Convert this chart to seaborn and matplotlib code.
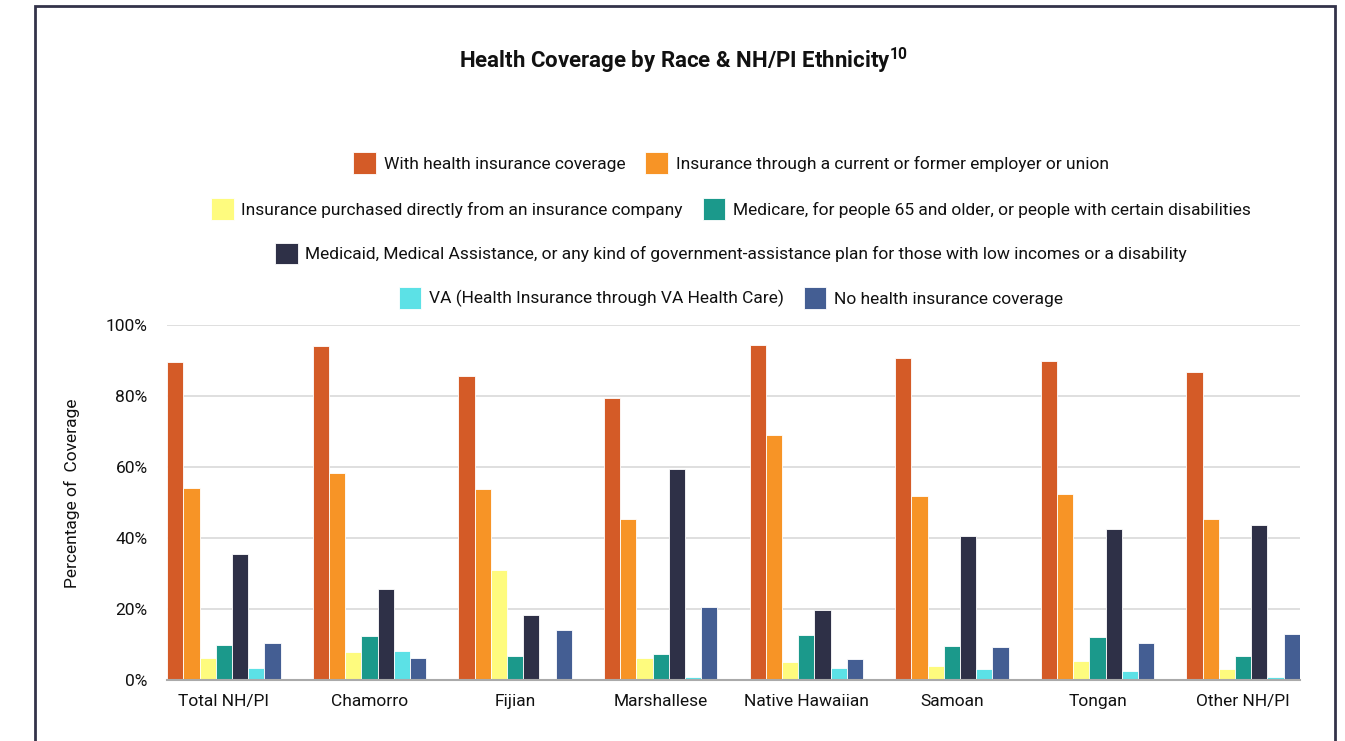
import numpy as np
import pandas as pd
import matplotlib
matplotlib.use("Agg")
import matplotlib.pyplot as plt
from matplotlib.patches import Rectangle
import seaborn as sns

groups = ["Total NH/PI", "Chamorro", "Fijian", "Marshallese",
          "Native Hawaiian", "Samoan", "Tongan", "Other NH/PI"]

series_names = [
    "With health insurance coverage",
    "Insurance through a current or former employer or union",
    "Insurance purchased directly from an insurance company",
    "Medicare, for people 65 and older, or people with certain disabilities",
    "Medicaid, Medical Assistance, or any kind of government-assistance plan for those with low incomes or a disability",
    "VA (Health Insurance through VA Health Care)",
    "No health insurance coverage",
]

with_coverage = [89.7, 94.1, 85.7, 79.5, 94.3, 90.6, 89.8, 86.9]
employer = [54.0, 58.3, 53.8, 45.4, 69.0, 51.8, 52.5, 45.4]
direct_purchase = [6.3, 7.8, 31.1, 6.3, 5.0, 4.0, 5.4, 3.1]
medicare = [9.9, 12.5, 6.9, 7.4, 12.7, 9.6, 12.1, 6.7]
medicaid = [35.4, 25.5, 18.3, 59.4, 19.7, 40.6, 42.6, 43.7]
va = [3.5, 8.1, 0.0, 0.8, 3.5, 3.2, 2.5, 0.8]
no_coverage = [10.3, 6.1, 14.2, 20.6, 5.9, 9.4, 10.4, 13.1]

palette = ["#D45B27", "#F79426", "#FEFB7E", "#1B998B",
           "#2E3047", "#5CE1E6", "#445E93"]

values = [with_coverage, employer, direct_purchase, medicare, medicaid, va, no_coverage]
rows = []
for name, vals in zip(series_names, values):
    for g, v in zip(groups, vals):
        rows.append({"group": g, "series": name, "pct": v})
df = pd.DataFrame(rows)

sns.set_theme(style="white")
plt.rcParams["font.family"] = ["Roboto", "DejaVu Sans"]
plt.rcParams["font.stretch"] = "condensed"
plt.rcParams["mathtext.fontset"] = "custom"
plt.rcParams["mathtext.rm"] = "Roboto"
plt.rcParams["mathtext.bf"] = "Roboto:bold"
plt.rcParams["text.color"] = "#111111"

fig = plt.figure(figsize=(13.45, 7.41), dpi=100)
ax = fig.add_axes([0.1242, 0.0823, 0.9665 - 0.1242, 0.5614 - 0.0823])

sns.barplot(data=df, x="group", y="pct", hue="series", hue_order=series_names,
            order=groups, palette=palette, width=0.78, gap=0.0,
            edgecolor="white", linewidth=0.6, saturation=1, ax=ax)

ax.set_xlim(-0.39, 7.39)
ax.set_ylim(0, 100)
ax.set_yticks([0, 20, 40, 60, 80, 100])
ax.set_yticklabels([f"{t}%" for t in [0, 20, 40, 60, 80, 100]], fontsize=12.5,
                   color="#111111")
ax.tick_params(axis="x", labelsize=12.5, length=0, pad=10, labelcolor="#111111")
ax.tick_params(axis="y", length=0, pad=14)
ax.yaxis.grid(True, color="#D9D9D9", linewidth=1.2)
ax.set_axisbelow(True)
for s in ["top", "right", "left"]:
    ax.spines[s].set_visible(False)
ax.spines["bottom"].set_color("#AAAAAA")
ax.spines["bottom"].set_linewidth(1.5)
ax.set_xlabel("")
ax.set_ylabel("")

handles, labels = ax.get_legend_handles_labels()
ax.get_legend().remove()

legend_rows = [[0, 1], [2, 3], [4], [5, 6]]
legend_y = [0.780, 0.718, 0.658, 0.598]
for idx, y in zip(legend_rows, legend_y):
    fig.legend([handles[i] for i in idx], [labels[i] for i in idx],
               loc="center", bbox_to_anchor=(0.5435, y), ncol=len(idx),
               frameon=False, fontsize=12.5, handlelength=1.3, handleheight=1.55,
               columnspacing=1.15, handletextpad=0.45, borderpad=0)

fig.text(0.508, 0.918, r"Health Coverage by Race & NH/PI Ethnicity$^{\mathbf{10}}$",
         ha="center", va="center", fontsize=16, fontweight="bold")
fig.text(0.0535, 0.335, "Percentage of  Coverage", rotation=90,
         ha="center", va="center", fontsize=12.5)

fig.patches.append(Rectangle((0.026, -0.05), 0.9665, 1.042, transform=fig.transFigure,
                             fill=False, edgecolor="#33334a", linewidth=2.0))

fig.savefig("out.png", dpi=100)
